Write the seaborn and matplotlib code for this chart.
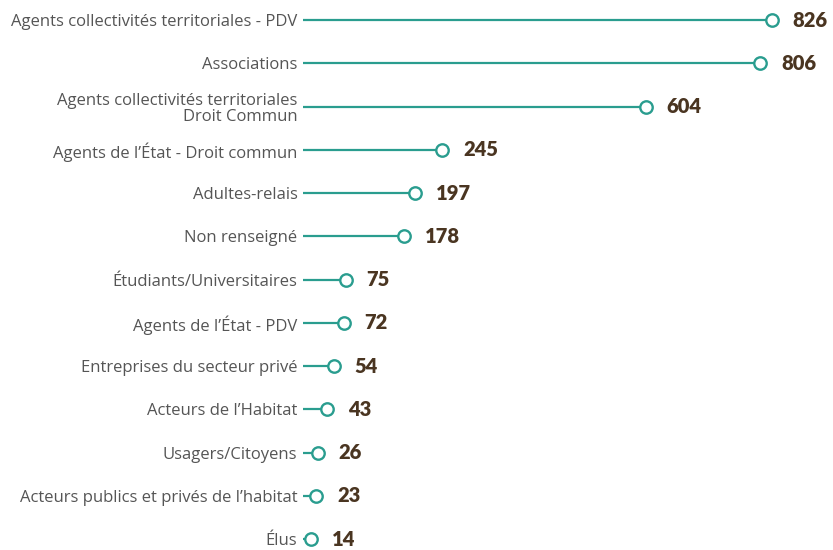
import matplotlib
matplotlib.use("Agg")
import matplotlib.pyplot as plt
import seaborn as sns
import pandas as pd

# Data
categories = [
    "Agents collectivités territoriales - PDV",
    "Associations",
    "Agents collectivités territoriales\nDroit Commun",
    "Agents de l\u2019État - Droit commun",
    "Adultes-relais",
    "Non renseigné",
    "Étudiants/Universitaires",
    "Agents de l\u2019État - PDV",
    "Entreprises du secteur privé",
    "Acteurs de l\u2019Habitat",
    "Usagers/Citoyens",
    "Acteurs publics et privés de l\u2019habitat",
    "Élus",
]
values = [826, 806, 604, 245, 197, 178, 75, 72, 54, 43, 26, 23, 14]

teal = "#2a9d8f"
brown = "#4a3521"
grey = "#555555"

df = pd.DataFrame({"cat": categories, "val": values})
df["pos"] = range(len(df))

sns.set_style("white")
plt.rcParams["font.family"] = ["Open Sans", "DejaVu Sans"]

# pixel geometry of the reference: value 0 at x=303px, 0.5676 px per unit
x0_px, px_per_unit = 303, 0.5676
top_px, bottom_px = 20, 539
row_step = (bottom_px - top_px) / 12

fig = plt.figure(figsize=(8.33, 5.5), dpi=100)
ax = fig.add_axes([x0_px / 833, 0, (833 - x0_px) / 833, 1])

ax.hlines(df["pos"], 0, df["val"], color=teal, linewidth=1.6, zorder=1)
sns.scatterplot(data=df, x="val", y="pos", ax=ax, s=80, facecolor="white",
                edgecolor=teal, linewidth=1.7, zorder=2, legend=False)

for p, v in zip(df["pos"], df["val"]):
    ax.annotate(str(v), (v, p), xytext=(15, 0), textcoords="offset points",
                ha="left", va="center", fontsize=14.5, fontweight="heavy",
                color=brown, family=["Lato", "DejaVu Sans"])

ax.set_xlim(0, (833 - x0_px) / px_per_unit)
ax.set_ylim(12 + (550 - bottom_px) / row_step, -top_px / row_step)
ax.set_yticks(df["pos"])
ax.set_yticklabels(df["cat"], fontsize=12, color=grey, linespacing=1.0)
ax.tick_params(axis="y", length=0, pad=4)
ax.set_xticks([])
ax.set_xlabel("")
ax.set_ylabel("")
sns.despine(ax=ax, left=True, bottom=True)

fig.savefig("out.png", dpi=100)
